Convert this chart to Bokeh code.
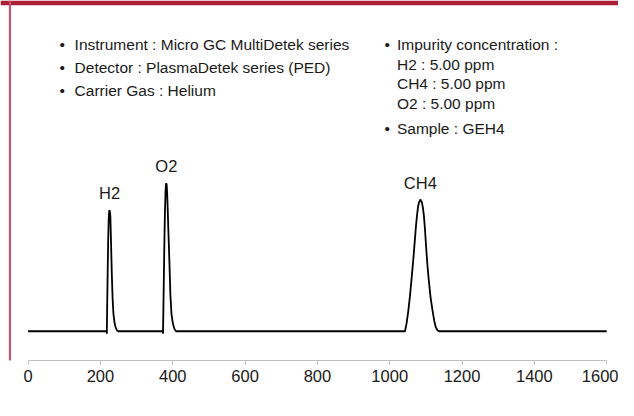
from bokeh.plotting import figure
from bokeh.models import Range1d, FixedTicker, Label, BoxAnnotation, ColumnDataSource
from bokeh.embed import file_html
from bokeh.resources import INLINE

# ---------------- data ----------------
h2_time = [217.5, 217.7, 218.5, 220.0, 221.5, 223.0, 224.3, 225.3, 226.3, 227.5,
           229.5, 231.5, 233.7, 236.0, 239.0, 242.0, 246.0, 249.0]
h2_signal = [0.0, -0.25, 2.0, 6.0, 9.5, 11.8, 12.5, 12.6, 12.4, 12.0,
             9.0, 6.0, 3.4, 1.8, 0.9, 0.4, 0.1, 0.0]

o2_time = [372.9, 373.1, 374.2, 375.6, 377.0, 378.5, 380.0, 381.2, 382.2, 383.3,
           384.6, 386.5, 388.5, 390.8, 393.5, 396.5, 400.0, 404.0, 409.0]
o2_signal = [0.0, -0.25, 2.5, 6.0, 9.5, 12.5, 14.5, 15.2, 15.4, 15.2,
             14.3, 12.2, 9.8, 7.2, 3.8, 1.8, 0.9, 0.3, 0.0]

ch4_time = [1042.3, 1046.5, 1051.3, 1055.8, 1060.3, 1065.0, 1069.3, 1072.5, 1075.6,
            1078.5, 1081.0, 1084.6, 1089.0, 1091.5, 1094.3, 1097.5, 1100.6, 1104.0,
            1107.8, 1113.0, 1118.6, 1123.0, 1127.5, 1132.0, 1136.6]
ch4_signal = [0.0, 0.8, 2.1, 3.6, 5.4, 7.4, 9.4, 10.9, 12.1,
              13.0, 13.4, 13.7, 13.4, 12.9, 12.1, 10.6, 8.8, 7.0,
              5.4, 3.5, 2.1, 1.1, 0.4, 0.1, 0.0]

run_start, run_end = 0, 1600
tick_values = [0, 200, 400, 600, 800, 1000, 1200, 1400, 1600]
peak_names = ["H2", "O2", "CH4"]

info_left = ["Instrument : Micro GC MultiDetek series",
             "Detector : PlasmaDetek series (PED)",
             "Carrier Gas : Helium"]
info_right_head = "Impurity concentration :"
info_right_lines = ["H2 :  5.00 ppm", "CH4 :  5.00 ppm", "O2 :  5.00 ppm"]
info_sample = "Sample : GEH4"

# ---------------- layout ----------------
W, H = 618, 400
RW, RH = 634.0, 416.0          # reference picture size
FX, FY = W / RW, H / RH
BOTTOM = 40
FRAME_H = H - BOTTOM
REF_FRAME_H = FRAME_H / FY      # frame height in reference pixels
PX_PER_UNIT_X = (621.9 - 28.3) / 1600.0   # reference px per second
X0 = -28.3 / PX_PER_UNIT_X
X1 = (RW - 28.3) / PX_PER_UNIT_X
Y1 = 344.0 / 10.0
Y0 = Y1 - REF_FRAME_H / 10.0
FONT = "Liberation Sans"
TXT = "#1a1a1a"


def sx(rx):
    return X0 + rx * (X1 - X0) / RW


def sy(ry):
    return Y1 - ry * (Y1 - Y0) / REF_FRAME_H


p = figure(width=W, height=H, output_backend="svg", toolbar_location=None,
           x_range=Range1d(X0, X1), y_range=Range1d(Y0, Y1),
           y_axis_location=None, x_axis_location="below",
           min_border_left=0, min_border_right=0, min_border_top=0,
           min_border_bottom=BOTTOM)
p.xgrid.visible = False
p.ygrid.visible = False
p.outline_line_color = None
p.background_fill_color = "white"
p.border_fill_color = "white"

ax = p.xaxis[0]
ax.ticker = FixedTicker(ticks=tick_values)
ax.bounds = (run_start, run_end)
ax.axis_line_color = "#bfbfbf"
ax.axis_line_width = 1
ax.major_tick_line_color = "#bfbfbf"
ax.major_tick_out = 4
ax.major_tick_in = 0
ax.minor_tick_line_color = None
ax.major_label_text_font = FONT
ax.major_label_text_font_size = "16.5px"
ax.major_label_text_color = TXT
ax.major_label_standoff = 5

# chromatogram trace
times = [run_start] + h2_time + o2_time + ch4_time + [run_end]
signals = [0.0] + h2_signal + o2_signal + ch4_signal + [0.0]
src = ColumnDataSource(dict(t=times, s=signals))
p.line("t", "s", source=src, line_color="black", line_width=1.8)

# peak labels
for name, tt, ss in zip(peak_names, [h2_time, o2_time, ch4_time],
                        [h2_signal, o2_signal, ch4_signal]):
    i = ss.index(max(ss))
    p.add_layout(Label(x=tt[i], y=ss[i], y_offset=17, text=name,
                       text_align="center", text_baseline="middle",
                       text_font=FONT, text_font_size="16.5px", text_color=TXT))

# frame decoration
p.add_layout(BoxAnnotation(left=X0, right=X1, top=Y1, bottom=sy(5),
                           fill_color="#ac1f37", fill_alpha=1, line_color=None))
p.add_layout(BoxAnnotation(left=sx(8.6), right=sx(10.8), top=Y1, bottom=sy(416),
                           fill_color="#c5536b", fill_alpha=1, line_color=None,
                           level="overlay"))


def add_text(rx, ry, text, align="left", size="15.5px"):
    p.add_layout(Label(x=sx(rx), y=sy(ry), text=text, text_align=align,
                       text_baseline="middle", text_font=FONT,
                       text_font_size=size, text_color=TXT))


for k, line in enumerate(info_left):
    y = 45.7 + 23.8 * k
    add_text(63.3, y, "•", align="center")
    add_text(76.0, y, line)

add_text(396.7, 45.7, "•", align="center")
add_text(406.7, 45.7, info_right_head)
for k, line in enumerate(info_right_lines):
    add_text(406.7, 66.7 + 20.0 * k, line)
add_text(396.7, 132.7, "•", align="center")
add_text(406.7, 132.7, info_sample)

open("out.html", "w").write(file_html(p, INLINE))
